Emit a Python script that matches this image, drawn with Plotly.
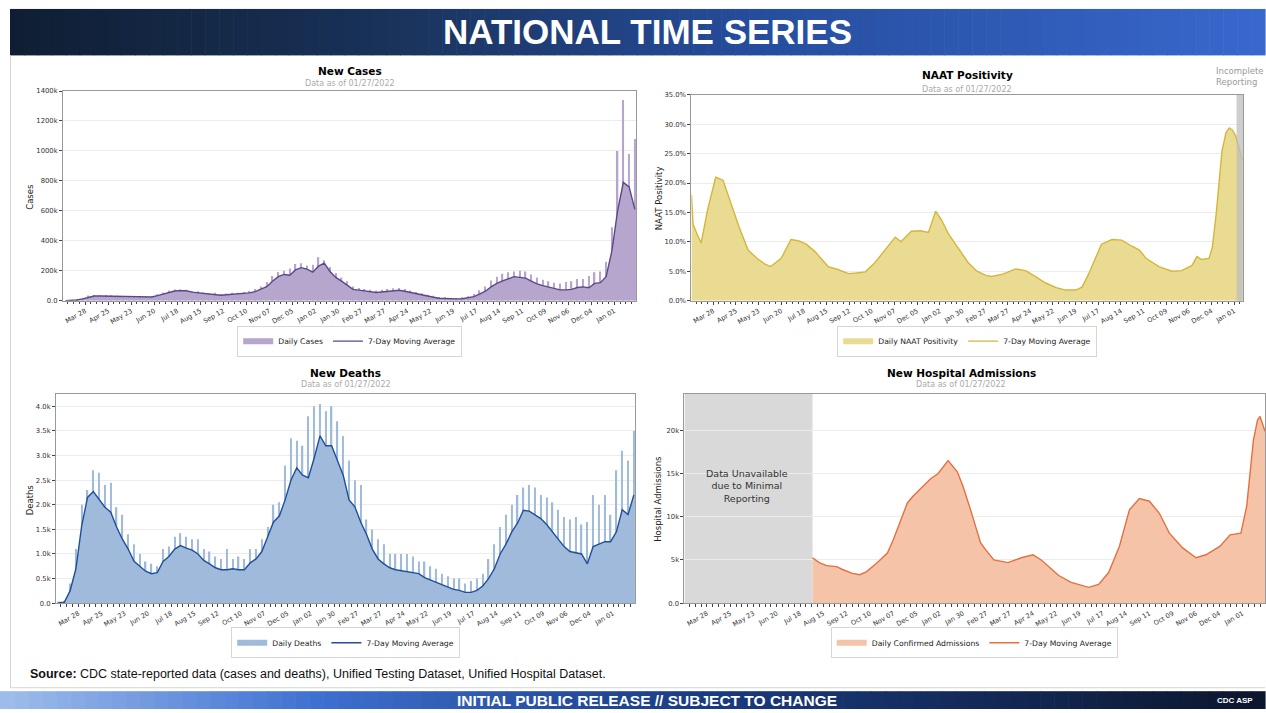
import plotly.graph_objects as go
import pandas as pd

W, H = 1266, 713
def PX(x): return x / W
def PY(y): return 1 - y / H

FONT = "DejaVu Sans"
NARROW = "Liberation Sans Narrow, Liberation Sans, Arial, sans-serif"
DAY = 86400000

# ---------------- data ----------------
week_start = "2020-03-04"   # weekly sampling for cases and deaths

# New cases, thousands
cases_ma = [0, 0.3, 4, 12, 24, 31, 31, 30, 29, 27,
            25, 23, 22, 22, 21, 24, 33, 45, 56, 64,
            67, 66, 57, 53, 47, 42, 42, 36, 39, 42,
            43, 46, 52, 60, 74, 93, 130, 160, 175, 170,
            205, 220, 210, 190, 230, 250, 195, 155, 130, 105,
            75, 70, 63, 57, 54, 58, 63, 66, 69, 63,
            54, 47, 38, 29, 23, 16, 14, 12, 12, 13,
            18, 27, 43, 63, 92, 115, 132, 148, 160, 155,
            150, 130, 112, 100, 90, 78, 72, 72, 75, 88,
            92, 86, 115, 120, 160, 330, 600, 790, 760, 610]
cases_peak = [0, 1, 6, 18, 34, 38, 36, 38, 36, 33,
              30, 29, 27, 27, 26, 30, 42, 55, 68, 75,
              76, 72, 65, 62, 55, 50, 52, 45, 48, 52,
              52, 58, 64, 78, 95, 125, 165, 192, 200, 215,
              245, 250, 235, 240, 290, 270, 225, 185, 155, 130,
              95, 85, 78, 72, 68, 72, 78, 82, 84, 78,
              67, 58, 50, 40, 32, 25, 22, 18, 18, 22,
              30, 45, 70, 95, 135, 160, 180, 190, 195, 200,
              195, 175, 155, 140, 130, 120, 115, 125, 130, 145,
              145, 165, 190, 195, 260, 490, 1000, 1340, 980, 1080]

# New deaths, thousands
deaths_ma = [0.01, 0.02, 0.25, 0.7, 1.57, 2.15, 2.27, 2.1, 1.95, 1.85,
             1.55, 1.3, 1.1, 0.85, 0.75, 0.65, 0.6, 0.62, 0.85, 0.95,
             1.1, 1.17, 1.12, 1.08, 1.0, 0.87, 0.8, 0.72, 0.68, 0.68,
             0.7, 0.68, 0.68, 0.82, 0.9, 1.05, 1.35, 1.65, 1.77, 2.1,
             2.5, 2.75, 2.6, 2.55, 2.95, 3.4, 3.2, 3.2, 2.9, 2.6,
             2.1, 1.96, 1.65, 1.4, 1.1, 0.9, 0.8, 0.72, 0.68, 0.66,
             0.65, 0.62, 0.6, 0.52, 0.47, 0.42, 0.38, 0.33, 0.28, 0.26,
             0.22, 0.22, 0.26, 0.35, 0.5, 0.7, 1.0, 1.2, 1.45, 1.63,
             1.89, 1.87, 1.8, 1.72, 1.6, 1.45, 1.3, 1.15, 1.05, 1.02,
             1.0, 0.8, 1.15, 1.2, 1.25, 1.25, 1.45, 1.9, 1.8, 2.2]
deaths_peak = [0.02, 0.05, 0.4, 1.1, 2.0, 2.3, 2.7, 2.65, 2.4, 2.45,
               1.95, 1.8, 1.4, 1.2, 1.0, 0.85, 0.8, 0.75, 1.1, 1.15,
               1.35, 1.42, 1.35, 1.3, 1.3, 1.1, 1.05, 0.95, 0.9, 1.1,
               0.9, 0.95, 0.9, 1.1, 1.1, 1.3, 1.55, 2.0, 2.05, 2.8,
               3.35, 3.3, 3.2, 3.8, 4.0, 4.05, 3.9, 4.0, 3.7, 3.4,
               2.9, 2.5, 2.4, 1.7, 1.5, 1.3, 1.2, 1.0, 1.0, 1.0,
               1.0, 0.95, 0.85, 0.85, 0.75, 0.7, 0.6, 0.55, 0.5, 0.5,
               0.4, 0.45, 0.5, 0.6, 0.9, 1.2, 1.55, 1.8, 2.0, 2.2,
               2.35, 2.4, 2.35, 2.2, 2.15, 2.05, 1.9, 1.75, 1.7, 1.75,
               1.6, 1.65, 2.2, 2.0, 2.2, 1.8, 2.7, 3.1, 2.9, 3.5]

# NAAT positivity, percent
naat_dates = ["2020-03-01", "2020-03-03", "2020-03-08", "2020-03-13", "2020-03-21",
              "2020-03-31", "2020-04-09", "2020-04-19", "2020-04-29", "2020-05-10",
              "2020-05-21", "2020-05-31", "2020-06-07", "2020-06-20", "2020-07-02",
              "2020-07-11", "2020-07-21", "2020-08-01", "2020-08-17", "2020-08-29",
              "2020-09-11", "2020-09-21", "2020-10-02", "2020-10-14", "2020-10-26",
              "2020-11-08", "2020-11-15", "2020-11-28", "2020-12-09", "2020-12-19",
              "2020-12-28", "2021-01-04", "2021-01-13", "2021-01-25", "2021-02-06",
              "2021-02-17", "2021-02-28", "2021-03-07", "2021-03-21", "2021-04-06",
              "2021-04-18", "2021-04-29", "2021-05-13", "2021-05-26", "2021-06-07",
              "2021-06-19", "2021-06-27", "2021-07-05", "2021-07-13", "2021-07-21",
              "2021-08-03", "2021-08-15", "2021-08-27", "2021-09-06", "2021-09-14",
              "2021-09-30", "2021-10-16", "2021-10-28", "2021-11-10", "2021-11-16",
              "2021-11-22", "2021-12-01", "2021-12-05", "2021-12-10", "2021-12-17",
              "2021-12-22", "2021-12-26", "2021-12-30", "2022-01-03", "2022-01-07",
              "2022-01-11"]
naat_ma = [18.0, 13.0, 11.3, 9.8, 15.5,
           21.0, 20.5, 16.3, 12.5, 8.6,
           7.2, 6.2, 5.8, 7.2, 10.4,
           10.2, 9.6, 8.3, 5.8, 5.3,
           4.6, 4.7, 4.9, 6.5, 8.6,
           10.8, 10.0, 11.8, 11.9, 11.6,
           15.2, 13.8, 11.3, 8.9, 6.5,
           5.0, 4.3, 4.1, 4.5, 5.4,
           5.1, 4.2, 3.0, 2.2, 1.8,
           1.8, 2.3, 4.5, 7.0, 9.6,
           10.4, 10.3, 9.3, 8.6, 7.2,
           5.8, 5.0, 5.1, 6.0, 7.5,
           7.0, 7.2, 9.0, 15.0, 25.5,
           28.6, 29.4, 29.0, 28.0, 26.0,
           24.0]
naat_incomplete = ["2022-01-04", "2022-01-12"]

# New hospital admissions, thousands
hosp_dates = ["2020-08-02", "2020-08-10", "2020-08-19", "2020-08-31", "2020-09-07",
              "2020-09-19", "2020-09-28", "2020-10-06", "2020-10-19", "2020-10-31",
              "2020-11-07", "2020-11-16", "2020-11-24", "2020-12-01", "2020-12-10",
              "2020-12-22", "2020-12-31", "2021-01-12", "2021-01-23", "2021-01-30",
              "2021-02-08", "2021-02-20", "2021-02-26", "2021-03-08", "2021-03-25",
              "2021-04-10", "2021-04-24", "2021-05-04", "2021-05-25", "2021-06-09",
              "2021-06-30", "2021-07-12", "2021-07-24", "2021-08-06", "2021-08-18",
              "2021-08-30", "2021-09-11", "2021-09-23", "2021-10-05", "2021-10-21",
              "2021-11-06", "2021-11-18", "2021-12-05", "2021-12-17", "2021-12-30",
              "2022-01-06", "2022-01-14", "2022-01-19", "2022-01-22", "2022-01-26",
              "2022-01-28"]
hosp_ma = [5.26, 4.7, 4.35, 4.23, 3.9,
           3.45, 3.3, 3.66, 4.7, 5.8,
           7.3, 9.6, 11.6, 12.4, 13.3,
           14.4, 15.0, 16.5, 15.2, 13.5,
           10.8, 7.0, 6.2, 5.0, 4.7,
           5.26, 5.6, 5.0, 3.2, 2.4,
           1.83, 2.17, 3.55, 6.6, 10.8,
           12.1, 11.8, 10.4, 8.1, 6.4,
           5.26, 5.6, 6.6, 7.9, 8.1,
           11.2, 18.8, 21.2, 21.6, 20.6,
           19.9]
hosp_unavailable_end = "2020-08-02"

cases_ticks = [0, 200, 400, 600, 800, 1000, 1200, 1400]
cases_ticktext = ["0.0", "200k", "400k", "600k", "800k", "1000k", "1200k", "1400k"]
naat_ticks = [0, 5, 10, 15, 20, 25, 30, 35]
naat_ticktext = ["0.0%", "5.0%", "10.0%", "15.0%", "20.0%", "25.0%", "30.0%", "35.0%"]
deaths_ticks = [0, 0.5, 1.0, 1.5, 2.0, 2.5, 3.0, 3.5, 4.0]
deaths_ticktext = ["0.0", "0.5k", "1.0k", "1.5k", "2.0k", "2.5k", "3.0k", "3.5k", "4.0k"]
hosp_ticks = [0, 5, 10, 15, 20]
hosp_ticktext = ["0.0", "5k", "10k", "15k", "20k"]

weeks = pd.date_range(week_start, periods=len(cases_ma), freq="7D")

# ---------------- colours ----------------
C_FILL, C_LINE = "#b6a5cd", "#5a4889"
N_FILL, N_LINE = "#eadb92", "#d4b63a"
D_FILL, D_LINE = "#9fbadb", "#1f4f9a"
Hh_FILL, Hh_LINE = "#f5c3a8", "#e5703e"

fig = go.Figure()

def add_panel(n, xs, ys, fill, line, fill_name, spikes=None):
    xa = "x" if n == 1 else f"x{n}"
    ya = "y" if n == 1 else f"y{n}"
    lg = "legend" if n == 1 else f"legend{n}"
    if spikes is not None:
        fig.add_trace(go.Bar(x=xs, y=spikes, width=1.7 * DAY,
                             marker=dict(color=fill, line=dict(width=0)),
                             xaxis=xa, yaxis=ya, showlegend=False, hoverinfo="skip"))
    fig.add_trace(go.Scatter(x=xs, y=ys, mode="none", fill="tozeroy", fillcolor=fill,
                             name=fill_name, legend=lg, xaxis=xa, yaxis=ya, hoverinfo="skip"))
    fig.add_trace(go.Scatter(x=xs, y=ys, mode="lines", line=dict(color=line, width=1.4),
                             name="7-Day Moving Average", legend=lg, xaxis=xa, yaxis=ya,
                             hoverinfo="skip"))

add_panel(1, weeks, cases_ma, C_FILL, C_LINE, "Daily Cases", cases_peak)
add_panel(2, naat_dates, naat_ma, N_FILL, N_LINE, "Daily NAAT Positivity")
add_panel(3, weeks, deaths_ma, D_FILL, D_LINE, "Daily Deaths", deaths_peak)
add_panel(4, hosp_dates, hosp_ma, Hh_FILL, Hh_LINE, "Daily Confirmed Admissions")

def xaxis(dom, rng, anchor):
    return dict(domain=dom, anchor=anchor, type="date", range=rng,
                tick0="2020-03-28", dtick=28 * DAY, tickformat="%b %d", tickangle=-30,
                ticks="outside", ticklen=3, tickcolor="#444",
                tickfont=dict(family=FONT, size=6.6, color="#333"),
                minor=dict(dtick=7 * DAY, tick0="2020-03-28", ticks="outside",
                           ticklen=2.5, tickcolor="#444"),
                showgrid=False, showline=True, linecolor="#999", linewidth=1,
                mirror=True, zeroline=False, fixedrange=True)

def yaxis(dom, rng, tv, tt, anchor):
    return dict(domain=dom, anchor=anchor, range=rng, tickvals=tv, ticktext=tt,
                ticks="outside", ticklen=3, tickcolor="#444",
                tickfont=dict(family=FONT, size=6.8, color="#333"),
                showgrid=True, gridcolor="#ececec", gridwidth=1,
                showline=True, linecolor="#999", linewidth=1, mirror=True,
                zeroline=False, fixedrange=True)

def legend(xc, yc):
    return dict(x=PX(xc), y=PY(yc), xanchor="center", yanchor="middle",
                orientation="h", bgcolor="white", bordercolor="#d6d6d6",
                borderwidth=1, font=dict(family=FONT, size=7.7, color="#222"),
                traceorder="normal")

annotations = []
def ann(x, y, text, size, color="#000", family=FONT, xanchor="center", yanchor="middle",
        angle=0, align="center"):
    annotations.append(dict(x=PX(x), y=PY(y), xref="paper", yref="paper", text=text,
                            showarrow=False, font=dict(family=family, size=size, color=color),
                            xanchor=xanchor, yanchor=yanchor, textangle=angle, align=align))

# titles
ann(350, 68, "<b>New Cases</b>", 10.5)
ann(350, 80, "Data as of 01/27/2022", 8, "#aaaaaa")
ann(968, 72, "<b>NAAT Positivity</b>", 10.5)
ann(968, 86, "Data as of 01/27/2022", 8, "#aaaaaa")
ann(346, 373, "<b>New Deaths</b>", 10.5)
ann(346, 385, "Data as of 01/27/2022", 8, "#aaaaaa")
ann(962, 373, "<b>New Hospital Admissions</b>", 10.5)
ann(962, 385, "Data as of 01/27/2022", 8, "#aaaaaa")
# axis titles
ann(30, 195, "Cases", 8.5, "#222", angle=-90)
ann(659, 196, "NAAT Positivity", 8.5, "#222", angle=-90)
ann(30, 501, "Deaths", 8.5, "#222", angle=-90)
ann(659, 500, "Hospital Admissions", 8.5, "#222", angle=-90)
# notes
ann(1215, 73, "Incomplete<br>Reporting", 8.5, "#9a9a9a", xanchor="left", align="left")
ann(748, 487, "Data Unavailable<br>due to Minimal<br>Reporting", 9.5, "#333")
# page texts
ann(648, 28, "<b>NATIONAL TIME SERIES</b>", 35, "white", family=NARROW)
ann(28, 678, "<b>Source:</b> CDC state-reported data (cases and deaths), Unified Testing Dataset, Unified Hospital Dataset.",
    12.5, "#111", family=NARROW, xanchor="left")
ann(648, 704, "<b>INITIAL PUBLIC RELEASE // SUBJECT TO CHANGE</b>", 15.5, "white",
    family=NARROW)
ann(1236, 704, "<b>CDC ASP</b>", 8, "white", family=NARROW)

# ---------------- shapes ----------------
shapes = []
def lerp_stops(stops, t):
    for (t0, c0), (t1, c1) in zip(stops[:-1], stops[1:]):
        if t <= t1:
            f = (t - t0) / (t1 - t0) if t1 > t0 else 0
            return "rgb(%d,%d,%d)" % tuple(round(a + (b - a) * f) for a, b in zip(c0, c1))
    return "rgb(%d,%d,%d)" % stops[-1][1]

top_stops = [(0, (15, 30, 50)), (0.3, (25, 50, 90)), (0.6, (38, 78, 158)), (1, (56, 104, 206))]
bot_stops = [(0, (160, 190, 235)), (0.25, (62, 112, 210)), (0.55, (26, 60, 130)), (1, (12, 22, 45))]
N = 90
for i in range(N):
    t = (i + 0.5) / N
    x0 = 10 + (1266 - 10) * i / N
    x1 = 10 + (1266 - 10) * (i + 1) / N + 0.6
    shapes.append(dict(type="rect", xref="paper", yref="paper", x0=PX(x0), x1=PX(x1),
                       y0=PY(52), y1=PY(5), fillcolor=lerp_stops(top_stops, t),
                       line=dict(width=0), layer="below"))
    bx0 = 1266 * i / N
    bx1 = 1266 * (i + 1) / N + 0.6
    shapes.append(dict(type="rect", xref="paper", yref="paper", x0=PX(bx0), x1=PX(bx1),
                       y0=PY(713), y1=PY(695), fillcolor=lerp_stops(bot_stops, t),
                       line=dict(width=0), layer="below"))

shapes.append(dict(type="line", xref="paper", yref="paper", x0=PX(10.5), x1=PX(10.5),
                   y0=PY(691), y1=PY(52), line=dict(color="#d4d4d4", width=1)))
shapes.append(dict(type="line", xref="paper", yref="paper", x0=PX(10), x1=1,
                   y0=PY(691.5), y1=PY(691.5), line=dict(color="#d4d4d4", width=1)))

# NAAT incomplete-reporting band
shapes.append(dict(type="rect", xref="x2", yref="paper", x0=naat_incomplete[0],
                   x1=naat_incomplete[1], y0=PY(300), y1=PY(92), fillcolor="#bdbdbd",
                   opacity=0.75, line=dict(width=0), layer="above"))
# Hospital unavailable region
shapes.append(dict(type="rect", xref="x4", yref="paper", x0="2020-03-01",
                   x1=hosp_unavailable_end, y0=PY(606), y1=PY(394), fillcolor="#d9d9d9",
                   line=dict(width=0), layer="below"))

fig.update_layout(
    width=W, height=H, margin=dict(l=0, r=0, t=0, b=0),
    paper_bgcolor="white", plot_bgcolor="rgba(0,0,0,0)", hovermode=False,
    barmode="overlay", showlegend=True,
    xaxis=xaxis([PX(63), PX(637)], ["2020-03-01", "2022-01-28"], "y"),
    yaxis=yaxis([PY(300), PY(88)], [0, 1400], cases_ticks, cases_ticktext, "x"),
    xaxis2=xaxis([PX(692), PX(1244)], ["2020-03-01", "2022-01-12"], "y2"),
    yaxis2=yaxis([PY(300), PY(92)], [0, 35], naat_ticks, naat_ticktext, "x2"),
    xaxis3=xaxis([PX(56), PX(636)], ["2020-03-01", "2022-01-28"], "y3"),
    yaxis3=yaxis([PY(606), PY(394)], [0, 4.26], deaths_ticks, deaths_ticktext, "x3"),
    xaxis4=xaxis([PX(685), 1.0], ["2020-03-01", "2022-01-28"], "y4"),
    yaxis4=yaxis([PY(606), PY(394)], [0, 24.25], hosp_ticks, hosp_ticktext, "x4"),
    legend=legend(350, 341), legend2=legend(968, 341),
    legend3=legend(346, 646), legend4=legend(975, 646),
    annotations=annotations, shapes=shapes,
)

fig.write_html("out.html", config={"displayModeBar": False},
               post_script="document.body.style.margin='0';document.body.style.overflow='hidden';")
